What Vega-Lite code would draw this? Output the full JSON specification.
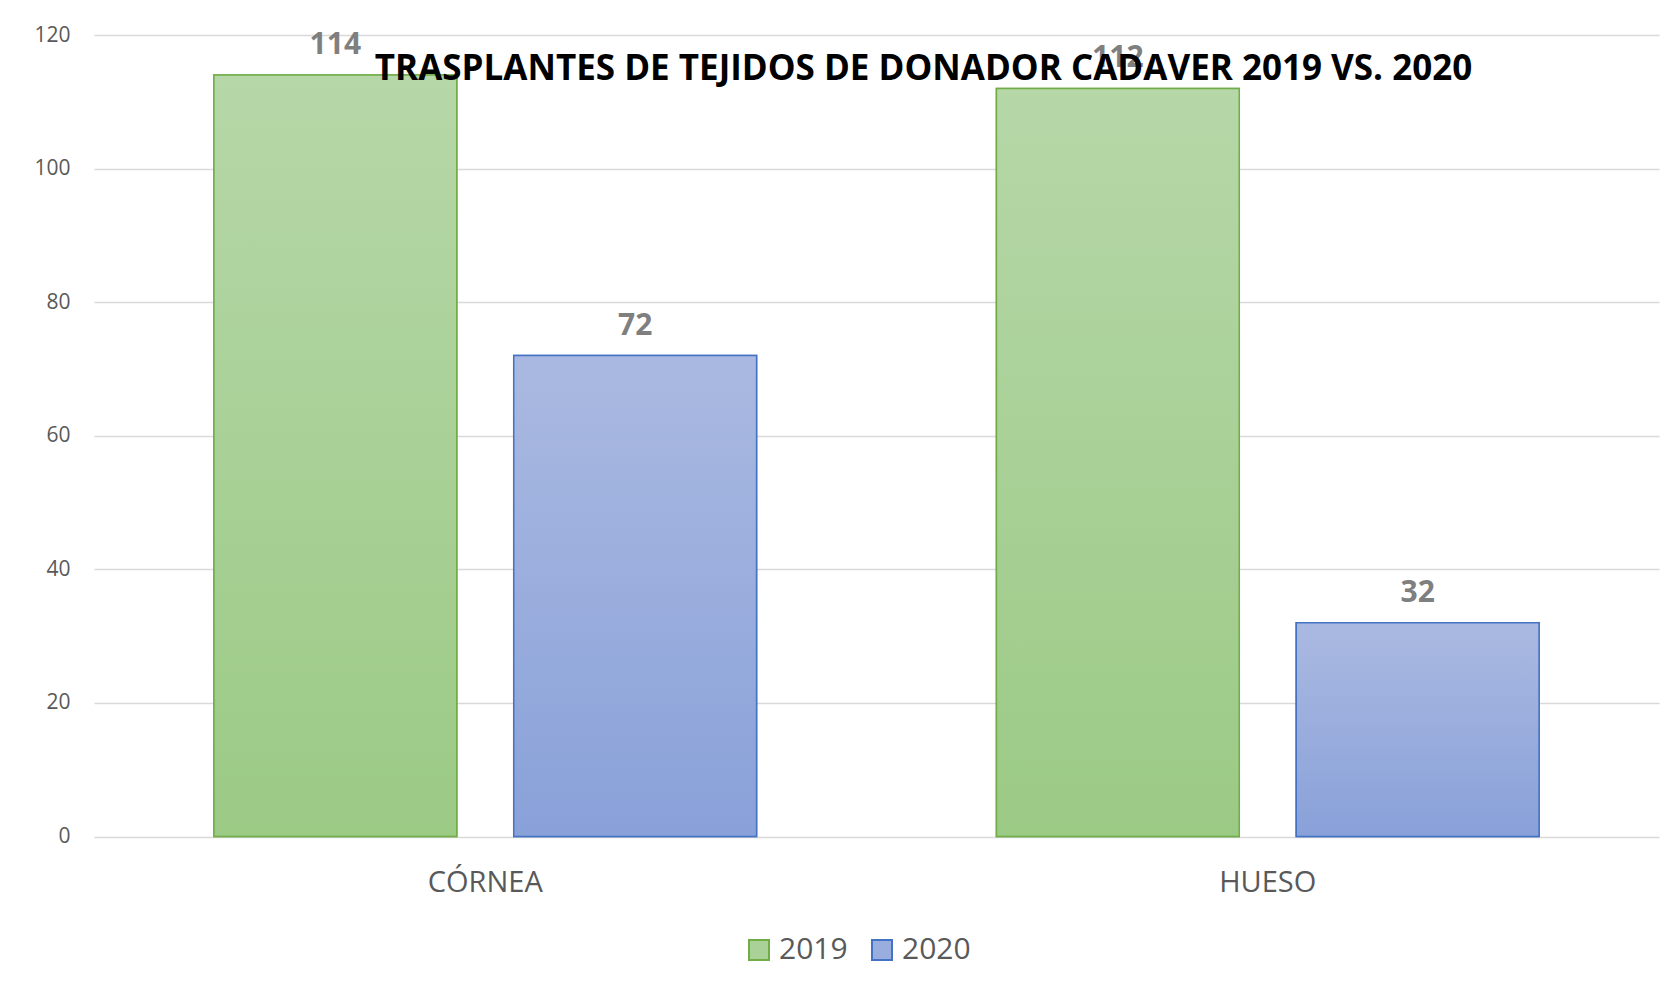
{
  "$schema": "https://vega.github.io/schema/vega-lite/v6.json",
  "width": 1565,
  "height": 801.5,
  "autosize": {"type": "none"},
  "padding": {"left": 94, "top": 35, "right": 19, "bottom": 155.5},
  "background": "white",
  "config": {"view": {"stroke": null}, "font": "Open Sans"},
  "title": {
    "text": "TRASPLANTES DE TEJIDOS DE DONADOR CADAVER 2019 VS. 2020",
    "anchor": "middle",
    "frame": "group",
    "orient": "top",
    "baseline": "middle",
    "offset": -80,
    "dx": 47,
    "font": "Open Sans",
    "fontSize": 35,
    "fontWeight": "bold",
    "color": "#000000"
  },
  "data": {
    "values": [
      {"tejido": "CÓRNEA", "year": "2019", "value": 114},
      {"tejido": "CÓRNEA", "year": "2020", "value": 72},
      {"tejido": "HUESO", "year": "2019", "value": 112},
      {"tejido": "HUESO", "year": "2020", "value": 32}
    ]
  },
  "encoding": {
    "x": {
      "field": "tejido",
      "type": "nominal",
      "sort": null,
      "title": null,
      "scale": {"paddingInner": 0, "paddingOuter": 0},
      "axis": {
        "labelAngle": 0,
        "labelFont": "Open Sans",
        "labelFontSize": 29,
        "labelColor": "#595959",
        "labelPadding": 32,
        "ticks": false,
        "domain": false,
        "grid": false
      }
    },
    "xOffset": {
      "field": "year",
      "type": "nominal",
      "scale": {"domain": ["2019", "2020"], "paddingInner": 0.19, "paddingOuter": 0.4}
    },
    "y": {
      "field": "value",
      "type": "quantitative",
      "title": null,
      "scale": {"domain": [0, 120], "nice": false},
      "axis": {
        "values": [0, 20, 40, 60, 80, 100, 120],
        "labelFont": "Open Sans",
        "labelFontSize": 21,
        "labelColor": "#595959",
        "labelPadding": 24,
        "ticks": false,
        "domain": false,
        "grid": true,
        "gridColor": "#d9d9d9",
        "gridWidth": 1.5
      }
    }
  },
  "layer": [
    {
      "mark": {"type": "bar", "strokeWidth": 1.5},
      "encoding": {
        "fill": {
          "field": "year",
          "type": "nominal",
          "title": null,
          "scale": {"domain": ["2019", "2020"], "range": ["#aad198", "#9aaddf"]},
          "legend": {
            "orient": "none",
            "direction": "horizontal",
            "legendX": 650,
            "legendY": 900,
            "symbolType": "square",
            "symbolSize": 400,
            "symbolStrokeWidth": 2,
            "symbolOpacity": 1,
            "labelFont": "Open Sans",
            "labelFontSize": 30,
            "labelColor": "#595959",
            "labelOffset": 5,
            "columnPadding": 19
          }
        },
        "stroke": {
          "field": "year",
          "type": "nominal",
          "title": null,
          "scale": {"domain": ["2019", "2020"], "range": ["#70ad47", "#4472c4"]}
        }
      }
    },
    {
      "transform": [{"filter": "datum.year == '2019'"}],
      "mark": {
        "type": "bar",
        "strokeWidth": 1.5,
        "stroke": "#70ad47",
        "fill": {"gradient": "linear", "x1": 0, "y1": 0, "x2": 0, "y2": 1, "stops": [{"offset": 0, "color": "#b6d7a8"}, {"offset": 1, "color": "#9bca85"}]}
      }
    },
    {
      "transform": [{"filter": "datum.year == '2020'"}],
      "mark": {
        "type": "bar",
        "strokeWidth": 1.5,
        "stroke": "#4472c4",
        "fill": {"gradient": "linear", "x1": 0, "y1": 0, "x2": 0, "y2": 1, "stops": [{"offset": 0, "color": "#aab9e1"}, {"offset": 1, "color": "#89a1d9"}]}
      }
    },
    {
      "mark": {
        "type": "text",
        "dy": -30,
        "baseline": "middle",
        "font": "Open Sans",
        "fontSize": 30,
        "fontWeight": "bold",
        "color": "#7f7f7f"
      },
      "encoding": {"text": {"field": "value", "type": "quantitative"}}
    }
  ]
}
